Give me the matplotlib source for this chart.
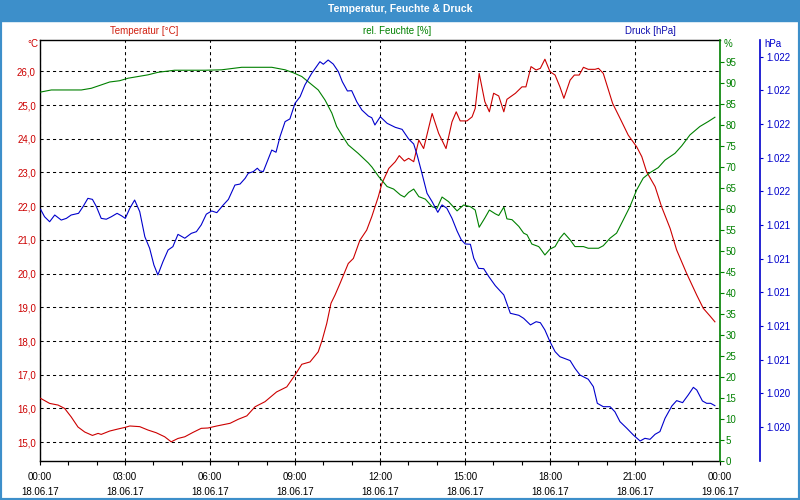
import numpy as np
import matplotlib
matplotlib.use('Agg')
import matplotlib.pyplot as plt
from matplotlib.ticker import FuncFormatter
from matplotlib.patches import Rectangle

plt.rcParams['font.family'] = ['Liberation Sans', 'DejaVu Sans']
plt.rcParams['font.size'] = 7

# Temperatur [°C]
temp_h = [0.02, 0.34, 0.64, 0.87, 1.10, 1.34, 1.58, 1.85, 2.05, 2.16, 2.46, 2.75, 3.01, 3.17,
          3.52, 3.81, 4.10, 4.40, 4.63, 4.87, 5.11, 5.40, 5.69, 5.93, 6.24, 6.71, 7.00, 7.30,
          7.59, 7.94, 8.35, 8.71, 9.00, 9.24, 9.53, 9.82, 9.96, 10.12, 10.27, 10.41, 10.59,
          10.88, 11.06, 11.29, 11.53, 11.71, 11.94, 12.07, 12.31, 12.54, 12.68, 12.86, 13.01,
          13.19, 13.37, 13.54, 13.84, 14.07, 14.33, 14.54, 14.69, 14.83, 15.07, 15.25, 15.36,
          15.50, 15.70, 15.86, 16.01, 16.19, 16.37, 16.48, 16.78, 17.01, 17.15, 17.33, 17.51,
          17.66, 17.82, 18.00, 18.18, 18.35, 18.49, 18.71, 18.86, 19.03, 19.18, 19.35, 19.59,
          19.71, 19.88, 20.21, 20.47, 20.76, 21.06, 21.24, 21.41, 21.71, 21.94, 22.24, 22.47,
          22.82, 23.18, 23.41, 23.65, 23.82]
temp = [16.30, 16.15, 16.10, 16.00, 15.75, 15.45, 15.30, 15.20, 15.26, 15.23, 15.33, 15.39,
        15.44, 15.48, 15.46, 15.36, 15.28, 15.16, 15.01, 15.11, 15.16, 15.29, 15.41, 15.42,
        15.48, 15.56, 15.68, 15.78, 16.05, 16.20, 16.49, 16.64, 16.99, 17.31, 17.38, 17.68,
        18.03, 18.52, 19.12, 19.36, 19.71, 20.30, 20.45, 20.99, 21.29, 21.69, 22.28, 22.68,
        23.12, 23.32, 23.50, 23.34, 23.42, 23.32, 23.96, 23.71, 24.75, 24.16, 23.71, 24.50,
        24.80, 24.53, 24.53, 24.65, 24.90, 25.94, 25.10, 24.80, 25.35, 25.27, 24.80, 25.17,
        25.35, 25.54, 25.54, 26.14, 26.04, 26.09, 26.36, 25.99, 25.89, 25.54, 25.20, 25.74,
        25.89, 25.89, 26.12, 26.06, 26.06, 26.09, 25.94, 25.05, 24.61, 24.11, 23.76, 23.47,
        23.02, 22.58, 21.98, 21.34, 20.70, 20.01, 19.36, 18.97, 18.74, 18.57]

# rel. Feuchte [%]
hum_h = [0.02, 0.40, 1.46, 1.81, 2.16, 2.46, 2.81, 3.11, 3.46, 3.81, 4.16, 4.75, 5.82, 6.41,
         7.12, 8.18, 8.65, 8.94, 9.24, 9.53, 9.82, 10.06, 10.30, 10.47, 10.65, 10.88, 11.23,
         11.59, 11.72, 11.95, 12.25, 12.48, 12.72, 12.86, 13.01, 13.19, 13.37, 13.60, 13.84,
         14.01, 14.19, 14.42, 14.72, 14.95, 15.19, 15.36, 15.50, 15.70, 15.86, 16.07, 16.19,
         16.37, 16.48, 16.66, 16.90, 17.07, 17.19, 17.36, 17.60, 17.65, 17.82, 18.00, 18.18,
         18.35, 18.50, 18.71, 18.88, 19.18, 19.35, 19.71, 19.88, 20.12, 20.35, 20.59, 20.82,
         21.06, 21.29, 21.53, 21.82, 22.06, 22.41, 22.65, 22.94, 23.29, 23.59, 23.82]
hum = [87.8, 88.3, 88.3, 88.7, 89.5, 90.2, 90.5, 91.1, 91.5, 91.9, 92.5, 93.0, 93.0, 93.1,
       93.7, 93.7, 93.1, 92.4, 91.5, 89.9, 88.3, 85.9, 82.8, 79.6, 77.6, 75.2, 73.2, 70.9,
       69.9, 67.7, 65.3, 64.7, 63.3, 62.8, 63.9, 64.7, 62.9, 62.3, 60.5, 60.1, 62.8, 61.7,
       59.5, 60.9, 60.5, 59.7, 55.6, 57.8, 59.7, 58.8, 58.4, 60.4, 57.6, 57.4, 55.8, 54.2,
       53.8, 51.6, 51.0, 50.6, 49.0, 50.4, 51.0, 53.0, 54.2, 52.6, 51.0, 51.0, 50.6, 50.6,
       51.2, 53.0, 54.2, 57.4, 60.5, 64.5, 67.3, 68.6, 69.8, 71.6, 73.2, 75.0, 77.6, 79.6,
       80.8, 81.8]

# Druck [hPa]
press_h = [0.02, 0.16, 0.34, 0.52, 0.75, 0.93, 1.10, 1.36, 1.52, 1.69, 1.85, 1.99, 2.16, 2.34,
           2.52, 2.72, 2.87, 3.01, 3.17, 3.34, 3.52, 3.70, 3.87, 4.02, 4.16, 4.34, 4.52, 4.69,
           4.87, 5.11, 5.34, 5.52, 5.69, 5.87, 6.06, 6.24, 6.47, 6.65, 6.88, 7.06, 7.24, 7.35,
           7.53, 7.67, 7.76, 7.88, 8.18, 8.33, 8.47, 8.65, 8.82, 9.00, 9.18, 9.35, 9.59, 9.88,
           10.00, 10.17, 10.35, 10.53, 10.67, 10.85, 11.00, 11.18, 11.36, 11.59, 11.71, 11.82,
           12.01, 12.25, 12.54, 12.78, 13.01, 13.19, 13.31, 13.48, 13.66, 13.84, 14.04, 14.19,
           14.36, 14.54, 14.72, 14.87, 15.01, 15.19, 15.31, 15.48, 15.66, 15.84, 16.07, 16.37,
           16.60, 16.90, 17.07, 17.31, 17.51, 17.66, 17.82, 18.00, 18.18, 18.35, 18.71, 18.88,
           19.06, 19.35, 19.53, 19.67, 19.88, 20.12, 20.29, 20.47, 20.71, 20.94, 21.18, 21.35,
           21.53, 21.71, 21.88, 22.06, 22.30, 22.47, 22.68, 22.88, 23.06, 23.18, 23.38, 23.53,
           23.67, 23.82]
press = [1021.494, 1021.450, 1021.420, 1021.460, 1021.430, 1021.440, 1021.460, 1021.470,
         1021.510, 1021.559, 1021.553, 1021.510, 1021.440, 1021.435, 1021.450, 1021.470,
         1021.456, 1021.440, 1021.500, 1021.549, 1021.480, 1021.331, 1021.262, 1021.163,
         1021.104, 1021.183, 1021.252, 1021.272, 1021.345, 1021.322, 1021.351, 1021.361,
         1021.401, 1021.465, 1021.484, 1021.474, 1021.520, 1021.553, 1021.638, 1021.644,
         1021.678, 1021.708, 1021.718, 1021.738, 1021.722, 1021.718, 1021.846, 1021.833,
         1021.925, 1022.015, 1022.031, 1022.124, 1022.163, 1022.233, 1022.302, 1022.371,
         1022.356, 1022.381, 1022.357, 1022.312, 1022.252, 1022.197, 1022.199, 1022.133,
         1022.084, 1022.048, 1022.038, 1021.995, 1022.044, 1022.005, 1021.981, 1021.969,
         1021.912, 1021.882, 1021.817, 1021.708, 1021.589, 1021.539, 1021.476, 1021.520,
         1021.500, 1021.441, 1021.365, 1021.312, 1021.288, 1021.286, 1021.203, 1021.143,
         1021.141, 1021.094, 1021.040, 1020.985, 1020.876, 1020.864, 1020.846, 1020.807,
         1020.826, 1020.820, 1020.777, 1020.707, 1020.648, 1020.618, 1020.595, 1020.549,
         1020.509, 1020.484, 1020.440, 1020.341, 1020.321, 1020.321, 1020.291, 1020.232,
         1020.193, 1020.153, 1020.117, 1020.133, 1020.127, 1020.157, 1020.173, 1020.252,
         1020.325, 1020.357, 1020.345, 1020.391, 1020.436, 1020.420, 1020.355, 1020.341,
         1020.341, 1020.327]

x_ticks = [0, 3, 6, 9, 12, 15, 18, 21, 24]
x_labels = ['00:00\n18.06.17', '03:00\n18.06.17', '06:00\n18.06.17', '09:00\n18.06.17',
            '12:00\n18.06.17', '15:00\n18.06.17', '18:00\n18.06.17', '21:00\n18.06.17',
            '00:00\n19.06.17']

RED = '#cc0000'
GREEN = '#008000'
BLUE = '#0000cc'
FRAME = '#3d8fca'

fig = plt.figure(figsize=(8, 5), dpi=100)

# window frame + title bar
fig.patches.append(Rectangle((0, 1 - 21 / 500), 1, 21 / 500, transform=fig.transFigure,
                             color=FRAME, zorder=0))
fig.patches.append(Rectangle((0, 0), 1, 1, transform=fig.transFigure, fill=False,
                             edgecolor=FRAME, linewidth=3, zorder=0))
fig.text(0.5, 1 - 9.5 / 500, 'Temperatur, Feuchte & Druck', color='white', weight='bold',
         ha='center', va='center', fontsize=7.5)

fig.text(144 / 800, 1 - 31 / 500, 'Temperatur [°C]', color='#d02010', ha='center', va='center')
fig.text(397 / 800, 1 - 31 / 500, 'rel. Feuchte [%]', color=GREEN, ha='center', va='center')
fig.text(650 / 800, 1 - 31 / 500, 'Druck [hPa]', color='#1010b0', ha='center', va='center')

ax = fig.add_axes([40 / 800, 1 - 460.7 / 500, 680 / 800, 420.7 / 500])
ax.plot(temp_h, temp, color=RED, linewidth=0.8, zorder=3)
ax.set_xlim(0, 24)
ax.set_ylim(14.45, 26.93)
ax.set_yticks(range(15, 27))
ax.yaxis.set_major_formatter(FuncFormatter(lambda v, p: f'{v:.1f}'.replace('.', ',')))
ax.tick_params(axis='y', length=0, pad=3, labelcolor=RED)
ax.set_xticks(x_ticks)
ax.set_xticklabels(x_labels, linespacing=1.6)
ax.set_xticks(range(25), minor=True)
ax.tick_params(axis='x', which='both', direction='out', length=3, width=0.8, pad=5)
ax.grid(True, which='major', color='black', linestyle=(0, (3, 3)), linewidth=0.75)
for s in ['left', 'top', 'bottom']:
    ax.spines[s].set_linewidth(1)
ax.spines['right'].set_visible(False)

ax2 = ax.twinx()
ax2.plot(hum_h, hum, color=GREEN, linewidth=0.8)
ax2.set_ylim(0, 100.2)
ax2.set_yticks(range(0, 100, 5))
ax2.tick_params(axis='y', direction='out', length=3, width=0.8, color=GREEN,
                labelcolor=GREEN, pad=1)
for s in ['left', 'top', 'bottom']:
    ax2.spines[s].set_visible(False)
ax2.spines['right'].set_color(GREEN)
ax2.spines['right'].set_linewidth(1.2)

ax3 = ax.twinx()
ax3.plot(press_h, press, color=BLUE, linewidth=0.8)
ax3.set_ylim(1020.0, 1022.5)
ax3.set_yticks(np.arange(1020.2, 1022.41, 0.2))
ax3.yaxis.set_major_formatter(FuncFormatter(lambda v, p: f'{v:,.0f}'.replace(',', '.')))
ax3.spines['right'].set_position(('outward', 29))  # ~40 px right of the green axis
for s in ['left', 'top', 'bottom']:
    ax3.spines[s].set_visible(False)
ax3.spines['right'].set_color(BLUE)
ax3.spines['right'].set_linewidth(1.2)
ax3.tick_params(axis='y', direction='out', length=2, width=0.8, color=BLUE,
                labelcolor=BLUE, pad=2)

fig.text(38 / 800, 1 - 44 / 500, '°C', color=RED, ha='right', va='center')
fig.text(724 / 800, 1 - 44 / 500, '%', color=GREEN, ha='left', va='center')
fig.text(764 / 800, 1 - 44 / 500, 'hPa', color=BLUE, ha='left', va='center')

fig.savefig('out.png', dpi=100)
